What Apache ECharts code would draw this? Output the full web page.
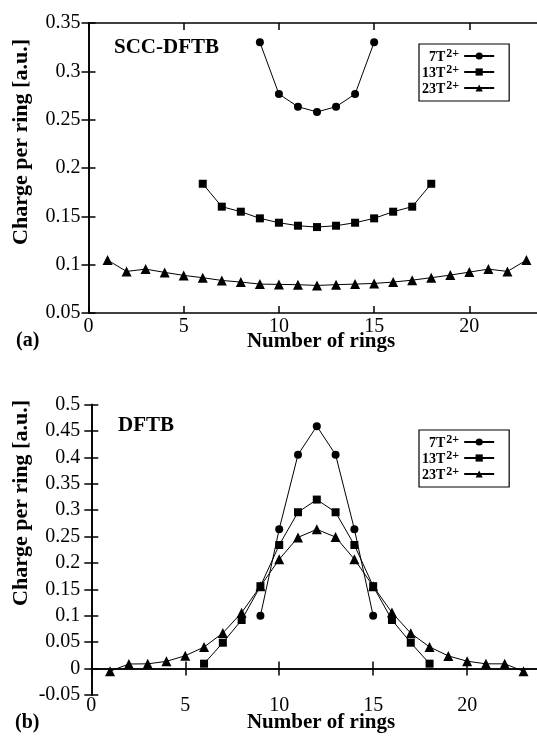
<!DOCTYPE html>
<html>
<head>
<meta charset="utf-8">
<script src="https://cdn.jsdelivr.net/npm/echarts@6/dist/echarts.min.js"></script>
<style>html,body{margin:0;padding:0;background:#fff;}#chart{width:537px;height:741px;}</style>
</head>
<body>
<div id="chart"></div>
<script>
// ---- data ----
const seriesNames = ['7T', '13T', '23T'];
const xTicks = [0, 5, 10, 15, 20];

const rings7 = [9, 10, 11, 12, 13, 14, 15];
const rings13 = [6, 7, 8, 9, 10, 11, 12, 13, 14, 15, 16, 17, 18];
const rings23 = [1, 2, 3, 4, 5, 6, 7, 8, 9, 10, 11, 12, 13, 14, 15, 16, 17, 18, 19, 20, 21, 22, 23];

// (a) SCC-DFTB
const scc7 = [0.330, 0.2765, 0.2634, 0.258, 0.2634, 0.2765, 0.330];
const scc13 = [0.1837, 0.160, 0.1548, 0.1479, 0.1434, 0.1403, 0.1389, 0.1403, 0.1434, 0.1479, 0.1548, 0.160, 0.1837];
const scc23 = [0.1047, 0.093, 0.0954, 0.092, 0.0889, 0.0865, 0.0837, 0.082, 0.0799, 0.0796, 0.0793, 0.0785,
               0.0793, 0.0799, 0.0806, 0.082, 0.084, 0.0865, 0.0892, 0.0923, 0.0954, 0.093, 0.1047];

// (b) DFTB
const dftb7 = [0.100, 0.264, 0.405, 0.459, 0.405, 0.264, 0.100];
const dftb13 = [0.0093, 0.049, 0.092, 0.156, 0.234, 0.296, 0.320, 0.296, 0.234, 0.156, 0.092, 0.049, 0.0093];
const dftb23 = [-0.005, 0.0087, 0.009, 0.0137, 0.0244, 0.0408, 0.0673, 0.1058, 0.156, 0.2068, 0.2484, 0.2636,
                0.249, 0.207, 0.156, 0.106, 0.067, 0.041, 0.024, 0.014, 0.009, 0.009, -0.005];

// ---- chart ----
const FONT = '"Liberation Serif", "Times New Roman", serif';
const pair = (xs, ys) => xs.map((x, i) => [x, ys[i]]);
const symbols = ['circle', 'rect', 'triangle'];
const symbolSizes = [8, 8, 10];

function mkSeries(idx, data) {
  return data.map((d, k) => ({
    name: seriesNames[k],
    type: 'line',
    xAxisIndex: idx * 2,
    yAxisIndex: idx * 2,
    data: d,
    symbol: symbols[k],
    symbolSize: symbolSizes[k],
    showAllSymbol: true,
    lineStyle: { color: '#000', width: 1 },
    itemStyle: { color: '#000' },
    animation: false,
    z: 3
  }));
}

const tickStyle = { show: true, inside: true, length: 7, lineStyle: { color: '#000', width: 1.5 } };
const lineStyle = { show: true, lineStyle: { color: '#000', width: 1.6 } };

function xAxes(grid, labelMargin) {
  return [
    { type: 'value', gridIndex: grid, position: 'bottom', min: 0, max: 24, interval: 5,
      axisLine: lineStyle, axisTick: tickStyle, splitLine: { show: false },
      axisLabel: { margin: labelMargin, color: '#000', fontFamily: FONT, fontSize: 20,
        formatter: v => (xTicks.indexOf(v) >= 0 ? String(v) : '') } },
    { type: 'value', gridIndex: grid, position: 'top', min: 0, max: 24, interval: 5,
      axisLine: lineStyle, axisTick: tickStyle, splitLine: { show: false }, axisLabel: { show: false } }
  ];
}
function yAxes(grid, min, max, labelMargin) {
  const base = { type: 'value', gridIndex: grid, min: min, max: max, interval: 0.05,
    axisLine: lineStyle, axisTick: tickStyle, splitLine: { show: false } };
  return [
    Object.assign({}, base, { position: 'left',
      axisLabel: { margin: labelMargin, color: '#000', fontFamily: FONT, fontSize: 20,
        formatter: v => String(parseFloat(v.toFixed(2))) } }),
    Object.assign({}, base, { position: 'right', axisLabel: { show: false } })
  ];
}

function legendFor(top) {
  return {
    orient: 'vertical', left: 419, top: top,
    data: seriesNames,
    align: 'right',
    itemWidth: 30, itemHeight: 9, itemGap: 0,
    padding: [4, 14, 5, 3],
    borderColor: '#000', borderWidth: 1.2, borderRadius: 0,
    selectedMode: false,
    formatter: n => '{b|' + n + '}{s|2+}',
    textStyle: {
      width: 46, align: 'right', color: '#000', fontFamily: FONT,
      rich: {
        b: { fontFamily: FONT, fontSize: 14, fontWeight: 'bold', color: '#000', verticalAlign: 'bottom', lineHeight: 16 },
        s: { fontFamily: FONT, fontSize: 12, fontWeight: 'bold', color: '#000', verticalAlign: 'top', lineHeight: 11, padding: [0, 0, 0, 1] }
      }
    }
  };
}

function txt(text, x, y, size, opts) {
  return Object.assign({
    type: 'text', x: x, y: y, silent: true,
    style: { text: text, font: 'bold ' + size + 'px ' + FONT, fill: '#000',
      textAlign: (opts && opts.align) || 'left', textVerticalAlign: 'middle' }
  }, opts && opts.rotation ? { rotation: opts.rotation } : {});
}

const chart = echarts.init(document.getElementById('chart'), null, { renderer: 'canvas' });
chart.setOption({
  animation: false,
  backgroundColor: '#fff',
  grid: [
    { left: 88.5, top: 23, width: 457, height: 290, show: false, containLabel: false, outerBoundsMode: 'none' },
    { left: 91.3, top: 404.5, width: 451, height: 290.5, show: false, containLabel: false, outerBoundsMode: 'none' }
  ],
  xAxis: xAxes(0, 4).concat(xAxes(1, 1)),
  yAxis: yAxes(0, 0.05, 0.35, 8).concat(yAxes(1, -0.05, 0.5, 11)),
  legend: [legendFor(44), legendFor(430)],
  series: mkSeries(0, [pair(rings7, scc7), pair(rings13, scc13), pair(rings23, scc23)])
    .concat(mkSeries(1, [pair(rings7, dftb7), pair(rings13, dftb13), pair(rings23, dftb23)])),
  graphic: [
    txt('SCC-DFTB', 114, 48, 21),
    txt('DFTB', 118, 426, 21),
    txt('Number of rings', 321, 342, 21, { align: 'center' }),
    txt('Number of rings', 321, 723, 21, { align: 'center' }),
    txt('(a)', 16, 341, 20),
    txt('(b)', 15, 723, 20),
    txt('Charge per ring [a.u.]', 21, 142, 22, { align: 'center', rotation: Math.PI / 2 }),
    txt('Charge per ring [a.u.]', 21, 503, 22, { align: 'center', rotation: Math.PI / 2 })
  ]
});
</script>
</body>
</html>
